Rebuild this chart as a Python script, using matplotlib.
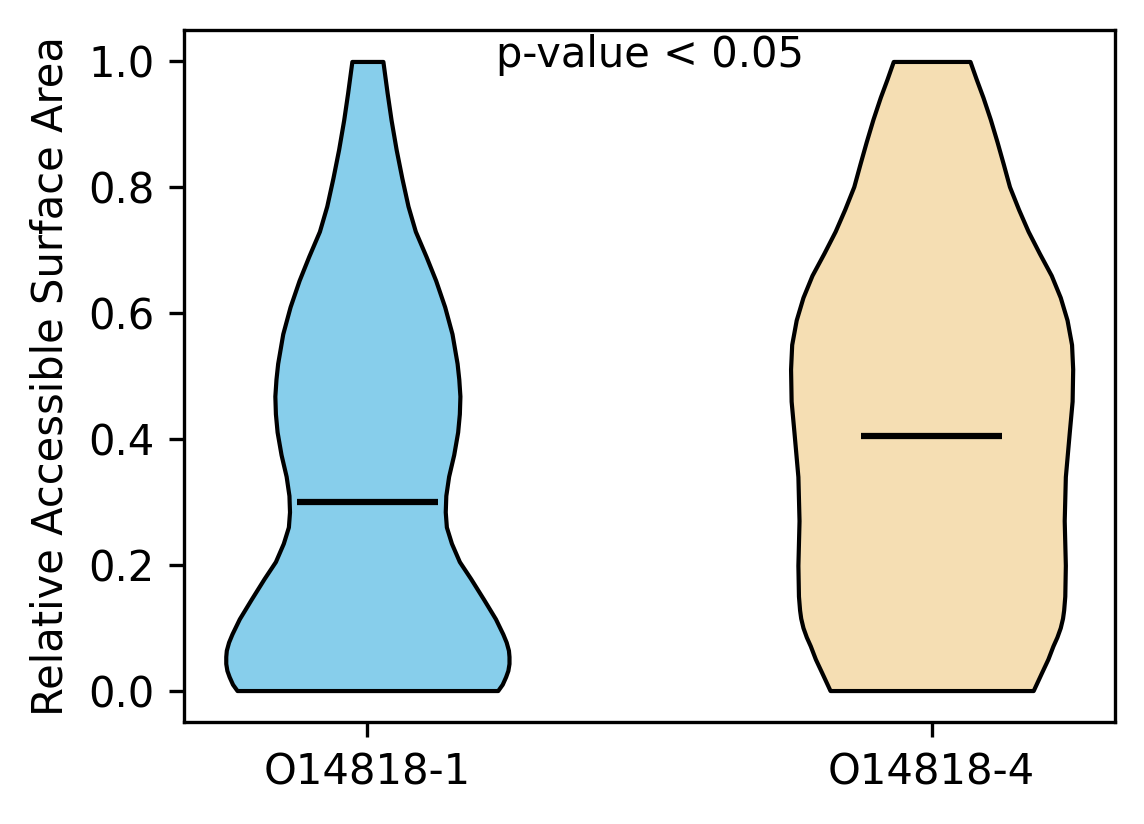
import numpy as np
import matplotlib
matplotlib.use("Agg")
import matplotlib.pyplot as plt

# isoform labels and violin positions
labels = ["O14818-1", "O14818-4"]
positions = [1, 2]
colors = ["skyblue", "wheat"]

# violin outlines: y level and half width (data units)
y_iso1 = [0.0, 0.01, 0.022, 0.032, 0.043, 0.054, 0.064, 0.077, 0.09, 0.114,
          0.145, 0.178, 0.205, 0.234, 0.26, 0.284, 0.31, 0.3406, 0.375, 0.411,
          0.44, 0.468, 0.495, 0.52, 0.567, 0.61, 0.652, 0.69, 0.73, 0.77,
          0.815, 0.86, 0.907, 0.95, 1.0]
hw_iso1 = [0.231, 0.239, 0.245, 0.249, 0.251, 0.251, 0.250, 0.246, 0.240, 0.227,
           0.206, 0.183, 0.163, 0.149, 0.140, 0.138, 0.139, 0.144, 0.153, 0.160,
           0.163, 0.164, 0.162, 0.159, 0.150, 0.137, 0.121, 0.104, 0.085, 0.072,
           0.061, 0.051, 0.042, 0.035, 0.0275]

y_iso4 = [0.0, 0.029, 0.05, 0.071, 0.085, 0.10, 0.115, 0.128, 0.15, 0.199,
          0.27, 0.34, 0.411, 0.46, 0.511, 0.55, 0.589, 0.625, 0.66, 0.695,
          0.73, 0.765, 0.801, 0.837, 0.872, 0.908, 0.943, 0.972, 1.0]
hw_iso4 = [0.180, 0.195, 0.206, 0.215, 0.222, 0.228, 0.232, 0.234, 0.236, 0.237,
           0.235, 0.237, 0.244, 0.249, 0.250, 0.248, 0.240, 0.228, 0.212, 0.191,
           0.171, 0.154, 0.138, 0.127, 0.116, 0.104, 0.091, 0.079, 0.068]

medians = [0.300, 0.405]

fig = plt.figure(figsize=(1144/300, 824/300), dpi=300)
ax = fig.add_axes([184/1144, 1-722/824, (1115-184)/1144, (722-30)/824])

outlines = [(y_iso1, hw_iso1), (y_iso4, hw_iso4)]
for pos, (yy, hw), c in zip(positions, outlines, colors):
    yy = np.array(yy)
    hw = np.array(hw)
    ax.fill_betweenx(yy, pos - hw, pos + hw, facecolor=c, edgecolor="black",
                     linewidth=1.0, alpha=1)

ax.hlines(medians, np.array(positions) - 0.125, np.array(positions) + 0.125,
          colors="black", linewidth=1.5)

ax.set_xlim(0.675, 2.325)
ax.set_ylim(-0.05, 1.05)
ax.set_xticks(positions)
ax.set_xticklabels(labels)
ax.set_ylabel("Relative Accessible Surface Area")
ax.text(0.5, 0.994, "p-value < 0.05", transform=ax.transAxes, ha="center", va="top")

fig.savefig("out.png", dpi=300)
